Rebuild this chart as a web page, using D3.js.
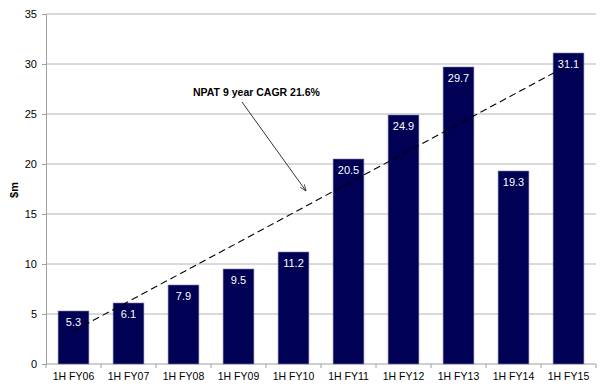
<!DOCTYPE html>
<html>
<head>
<meta charset="utf-8">
<script src="https://cdn.jsdelivr.net/npm/d3@7"></script>
<style>
  body { margin: 0; background: #fff; }
  text { font-family: Arial, "Liberation Sans", sans-serif; }
</style>
</head>
<body>
<svg id="chart" width="600" height="389"></svg>
<script>
// chart data
const periods = ['1H FY06', '1H FY07', '1H FY08', '1H FY09', '1H FY10',
  '1H FY11', '1H FY12', '1H FY13', '1H FY14', '1H FY15'];
const npat = [5.3, 6.1, 7.9, 9.5, 11.2, 20.5, 24.9, 29.7, 19.3, 31.1];
// trendline values at first and last period
const trend = [3.3, 29.9];
const yTicks = [0, 5, 10, 15, 20, 25, 30, 35];
const note = 'NPAT 9 year CAGR 21.6%';

const svg = d3.select('#chart');
const margin = { top: 14, right: 4, bottom: 25, left: 46 };
const width = 600 - margin.left - margin.right;
const height = 389 - margin.top - margin.bottom;

const g = svg.append('g').attr('transform', `translate(${margin.left},${margin.top})`);

const x = d3.scaleBand().domain(periods).range([0, width]).paddingInner(0.44).paddingOuter(0.22);
const y = d3.scaleLinear().domain([0, 35]).range([height, 0]);

// gridlines
g.selectAll('.grid')
  .data(yTicks.filter((d) => d > 0))
  .join('line')
  .attr('x1', 0).attr('x2', width)
  .attr('y1', (d) => y(d)).attr('y2', (d) => y(d))
  .attr('stroke', '#b4b4b4').attr('stroke-width', 1);

// y axis
const yAxis = g.append('g').call(d3.axisLeft(y).tickValues(yTicks).tickSize(4).tickPadding(5));
yAxis.select('.domain').attr('stroke', '#a0a0a0');
yAxis.selectAll('.tick line').attr('stroke', '#a0a0a0');
yAxis.selectAll('text').attr('font-size', 11).attr('fill', '#000');

// x axis, ticks between categories
const xAxis = g.append('g').attr('transform', `translate(0,${height})`);
xAxis.append('line').attr('x1', 0).attr('x2', width).attr('stroke', '#a0a0a0');
xAxis.selectAll('.sep')
  .data(d3.range(periods.length + 1))
  .join('line')
  .attr('x1', (i) => i * width / periods.length)
  .attr('x2', (i) => i * width / periods.length)
  .attr('y1', 0).attr('y2', 4)
  .attr('stroke', '#a0a0a0');
xAxis.selectAll('.lbl')
  .data(periods)
  .join('text')
  .attr('x', (d) => x(d) + x.bandwidth() / 2)
  .attr('y', 16)
  .attr('text-anchor', 'middle')
  .attr('font-size', 10.5)
  .attr('fill', '#000')
  .text((d) => d);

// bars
g.selectAll('.bar')
  .data(npat)
  .join('rect')
  .attr('x', (d, i) => x(periods[i]))
  .attr('y', (d) => y(d))
  .attr('width', x.bandwidth())
  .attr('height', (d) => height - y(d))
  .attr('fill', '#000054')
  .attr('stroke', '#7a7aa8')
  .attr('stroke-width', 0.6);

g.selectAll('.val')
  .data(npat)
  .join('text')
  .attr('x', (d, i) => x(periods[i]) + x.bandwidth() / 2)
  .attr('y', (d) => y(d) + 15)
  .attr('text-anchor', 'middle')
  .attr('font-size', 11)
  .attr('fill', '#fff')
  .text((d) => d.toFixed(1));

// trendline
const cx = (i) => x(periods[i]) + x.bandwidth() / 2;
g.append('line')
  .attr('x1', cx(0)).attr('y1', y(trend[0]))
  .attr('x2', cx(periods.length - 1)).attr('y2', y(trend[1]))
  .attr('stroke', '#000').attr('stroke-width', 1.1)
  .attr('stroke-dasharray', '7,4');

// annotation
svg.append('defs').append('marker')
  .attr('id', 'arrow')
  .attr('viewBox', '0 0 10 10')
  .attr('refX', 10).attr('refY', 5)
  .attr('markerWidth', 8).attr('markerHeight', 8)
  .attr('orient', 'auto')
  .append('path')
  .attr('d', 'M0,1 L10,5 L0,9')
  .attr('fill', 'none').attr('stroke', '#000').attr('stroke-width', 1);

svg.append('text')
  .attr('x', 193).attr('y', 96)
  .attr('font-size', 10.5).attr('font-weight', 'bold')
  .text(note);

svg.append('line')
  .attr('x1', 242).attr('y1', 102)
  .attr('x2', 306).attr('y2', 191)
  .attr('stroke', '#000').attr('stroke-width', 0.8)
  .attr('marker-end', 'url(#arrow)');

// y title
svg.append('text')
  .attr('transform', 'translate(18,190) rotate(-90)')
  .attr('text-anchor', 'middle')
  .attr('font-size', 11).attr('font-weight', 'bold')
  .text('$m');
</script>
</body>
</html>
